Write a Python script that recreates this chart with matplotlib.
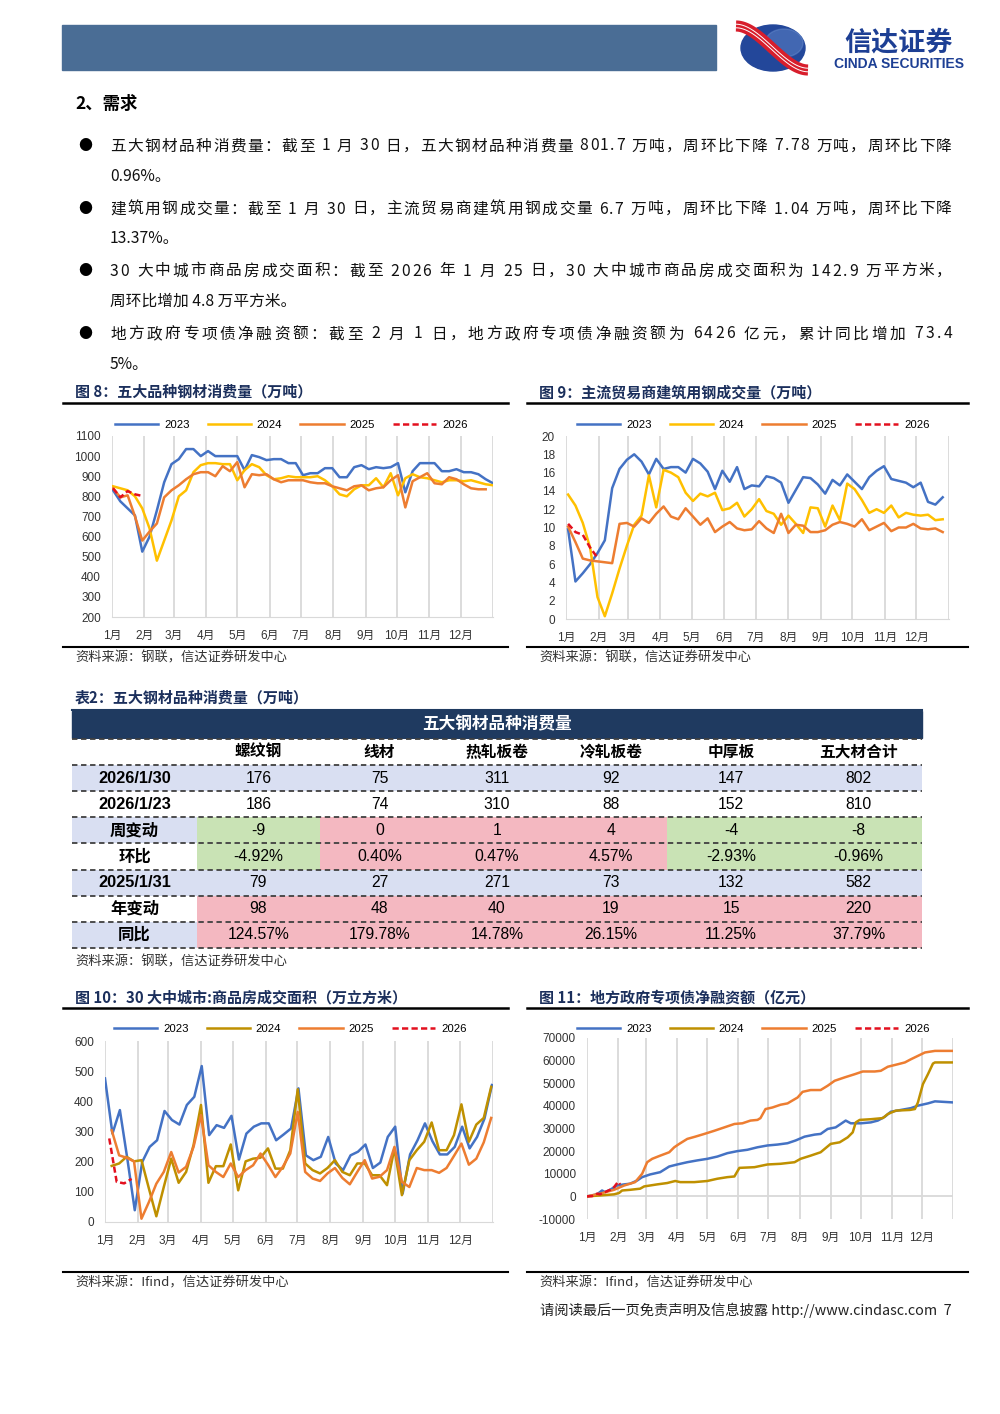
import matplotlib.pyplot as plt
import numpy as np
from matplotlib.patches import Rectangle, Ellipse

plt.rcParams['font.family'] = ['Liberation Sans', 'Noto Sans CJK SC', 'DejaVu Sans']
plt.rcParams['axes.unicode_minus'] = False
CJK = ['Noto Sans CJK SC', 'DejaVu Sans']

# ---------------- data ----------------
months = ['1月', '2月', '3月', '4月', '5月', '6月', '7月', '8月', '9月', '10月', '11月', '12月']
month_start = [0, 31, 59, 90, 120, 151, 181, 212, 243, 273, 304, 334, 365]
years = ['2023', '2024', '2025', '2026']

# 图8 五大品种钢材消费量 (weekly, 万吨)
steel_2023 = [830, 775, 740, 705, 525, 600, 730, 870, 960, 985, 1035, 1035, 1000, 1025, 1000, 1000,
              1000, 1000, 930, 1005, 995, 980, 985, 985, 965, 965, 905, 915, 915, 940, 940, 895, 895,
              945, 955, 935, 945, 940, 945, 965, 820, 925, 965, 965, 965, 925, 925, 935, 920, 920,
              910, 885, 865]
steel_2024 = [850, 840, 830, 800, 740, 640, 480, 580, 680, 800, 830, 920, 955, 965, 965, 960, 960,
              880, 930, 960, 945, 905, 885, 890, 900, 895, 895, 895, 900, 880, 850, 810, 800, 835,
              855, 855, 890, 845, 915, 805, 890, 910, 895, 890, 880, 870, 880, 880, 875, 880, 870,
              860, 855]
steel_2025 = [840, 795, 805, 700, 580, 625, 665, 795, 830, 855, 885, 910, 920, 920, 900, 950, 925,
              970, 845, 910, 905, 910, 885, 870, 880, 880, 880, 870, 865, 865, 850, 840, 830, 850,
              855, 830, 840, 845, 880, 905, 745, 875, 895, 915, 865, 860, 895, 885, 860, 840, 835,
              835]
steel_2026 = [840, 795, 826, 810, 802]

# 图9 主流贸易商建筑用钢成交量 (weekly, 万吨)
rebar_2023 = [9.8, 4.1, 5.0, 6.0, 7.2, 8.6, 14.3, 16.4, 17.4, 18.0, 17.2, 15.8, 17.5, 16.4, 16.6,
              16.6, 16.0, 17.5, 17.0, 16.1, 14.2, 16.2, 15.0, 16.6, 14.2, 14.6, 14.5, 15.6, 15.4,
              14.9, 12.7, 14.1, 15.5, 15.4, 14.7, 13.7, 15.2, 14.6, 15.8, 15.0, 14.2, 15.5, 16.2,
              16.7, 15.3, 15.1, 14.9, 14.4, 14.9, 12.8, 12.5, 13.3]
rebar_2024 = [13.6, 12.4, 10.5, 7.8, 2.4, 0.3, 2.8, 5.5, 8.0, 10.3, 11.3, 15.7, 12.2, 16.3, 16.0,
              15.5, 13.8, 12.9, 13.7, 13.4, 13.8, 11.9, 12.1, 12.7, 11.2, 12.0, 13.1, 11.8, 11.5,
              10.3, 11.3, 10.4, 9.4, 12.2, 12.1, 10.1, 12.4, 10.8, 14.8, 14.2, 13.0, 11.6, 12.0,
              11.6, 12.4, 11.1, 11.6, 11.4, 11.3, 11.4, 10.8, 10.9]
rebar_2025 = [10.1, 8.4, 6.6, 6.4, 6.3, 6.2, 6.1, 10.4, 10.5, 10.1, 11.0, 10.5, 11.5, 12.3, 11.2,
              10.9, 12.1, 11.2, 10.3, 11.0, 9.5, 10.1, 10.6, 9.9, 9.7, 9.8, 10.7, 9.9, 9.4, 11.5,
              9.4, 10.3, 10.2, 9.5, 9.5, 9.7, 10.3, 10.6, 10.4, 10.1, 10.9, 9.7, 10.1, 10.5, 9.6,
              10.0, 10.0, 10.4, 9.9, 9.8, 9.9, 9.5]
rebar_2026 = [10.4, 9.5, 9.2, 7.8, 6.7]

# 图10 30大中城市商品房成交面积 (weekly, 万平方米)
house_2023 = [476, 293, 371, 210, 39, 199, 249, 271, 368, 338, 323, 388, 415, 517, 288, 321, 312,
              352, 207, 293, 316, 327, 327, 271, 290, 310, 443, 221, 205, 216, 282, 194, 172, 221,
              233, 257, 179, 197, 282, 316, 94, 224, 271, 327, 268, 224, 224, 249, 316, 244, 282,
              343, 454]
house_2024 = [186, 194, 216, 201, 205, 111, 19, 116, 210, 130, 166, 255, 388, 130, 185, 185, 257,
              105, 201, 210, 213, 244, 177, 177, 238, 440, 194, 172, 161, 179, 205, 166, 155, 194,
              194, 155, 155, 122, 244, 89, 205, 238, 266, 330, 238, 238, 288, 390, 266, 323, 345,
              448]
house_2025 = [304, 221, 213, 201, 11, 66, 127, 166, 232, 164, 183, 249, 354, 188, 166, 149, 194,
              149, 172, 188, 227, 190, 149, 183, 227, 365, 166, 144, 136, 161, 179, 146, 125, 166,
              205, 144, 150, 172, 249, 133, 116, 179, 172, 172, 163, 179, 219, 260, 190, 210, 264,
              345]
house_2026 = [277, 133, 128, 143]

# 图11 地方政府专项债净融资额 (cumulative, 亿元), day of year
bond_2023_day = [0, 10, 15, 18, 23, 30, 37, 43, 50, 55, 63, 73, 82, 90, 100, 110, 120, 130, 140,
                 150, 160, 170, 180, 190, 200, 208, 217, 227, 233, 240, 248, 253, 258, 263, 273,
                 283, 290, 297, 303, 313, 323, 330, 340, 347, 366]
bond_2023 = [0, 900, 2600, 1900, 2900, 4800, 5300, 5600, 7000, 8500, 9700, 10700, 13200, 14100,
             15100, 15900, 16600, 17600, 19100, 20000, 20600, 21700, 22500, 22900, 23500, 24700,
             26400, 27300, 27600, 29800, 30500, 32000, 33500, 32300, 32300, 32700, 33500, 35200,
             37400, 38200, 39000, 40100, 41100, 42000, 41500]
bond_2024_day = [0, 13, 27, 32, 35, 43, 53, 57, 70, 80, 88, 93, 107, 120, 130, 140, 147, 152, 167,
                 180, 193, 207, 213, 223, 233, 243, 252, 260, 265, 268, 272, 283, 295, 300, 308,
                 322, 327, 330, 335, 340, 345, 347, 366]
bond_2024 = [0, 400, 900, 1500, 2600, 2900, 3400, 4400, 5300, 5900, 6800, 6300, 6300, 6800, 7800,
             8500, 8800, 12600, 12900, 14100, 14400, 15100, 16600, 18000, 19500, 23200, 23900,
             26100, 28300, 32700, 33800, 34100, 34600, 36400, 37900, 38200, 38600, 41500, 49600,
             54000, 58700, 59200, 59200]
bond_2025_day = [0, 13, 27, 37, 48, 55, 60, 65, 73, 82, 87, 92, 100, 108, 117, 127, 137, 147, 155,
                 163, 170, 173, 178, 185, 193, 200, 210, 215, 223, 233, 240, 247, 257, 267, 275,
                 287, 293, 300, 310, 317, 323, 330, 337, 347, 366]
bond_2025 = [0, 1200, 2900, 4800, 6300, 10000, 15100, 16600, 18000, 19500, 21700, 23200, 25400,
             26400, 27600, 29000, 30500, 32000, 32300, 33500, 33800, 34600, 38600, 39300, 40500,
             41100, 43700, 46200, 47000, 47000, 48900, 51100, 52600, 54000, 55200, 55200, 55500,
             57300, 58400, 59200, 60600, 62100, 63600, 64300, 64300]
bond_2026_day = [0, 5, 10, 13, 18, 23, 27, 31, 33]
bond_2026 = [0, 100, 1200, 900, 1900, 2900, 4100, 6426, 5300]

# 表2 五大钢材品种消费量
tbl_cols = ['螺纹钢', '线材', '热轧板卷', '冷轧板卷', '中厚板', '五大材合计']
tbl_now = [176, 75, 311, 92, 147, 802]        # 2026/1/30
tbl_prev = [186, 74, 310, 88, 152, 810]       # 2026/1/23
tbl_wk_chg = [-9, 0, 1, 4, -4, -8]
tbl_wk_pct = [-4.92, 0.40, 0.47, 4.57, -2.93, -0.96]
tbl_ly = [79, 27, 271, 73, 132, 582]          # 2025/1/31
tbl_yr_chg = [98, 48, 40, 19, 15, 220]
tbl_yr_pct = [124.57, 179.78, 14.78, 26.15, 11.25, 37.79]

body_lines = [
    ('●', '五大钢材品种消费量：截至 1 月 30 日，五大钢材品种消费量 801.7 万吨，周环比下降 7.78 万吨，周环比下降'),
    ('', '0.96%。'),
    ('●', '建筑用钢成交量：截至 1 月 30 日，主流贸易商建筑用钢成交量 6.7 万吨，周环比下降 1.04 万吨，周环比下降'),
    ('', '13.37%。'),
    ('●', '30 大中城市商品房成交面积：截至 2026 年 1 月 25 日，30 大中城市商品房成交面积为 142.9 万平方米，'),
    ('', '周环比增加 4.8 万平方米。'),
    ('●', '地方政府专项债净融资额：截至 2 月 1 日，地方政府专项债净融资额为 6426 亿元，累计同比增加 73.4'),
    ('', '5%。'),
]

# ---------------- page ----------------
W, H = 1000, 1414
fig = plt.figure(figsize=(10, 14.14), dpi=100)
pg = fig.add_axes([0, 0, 1, 1])
pg.set_xlim(0, W)
pg.set_ylim(H, 0)
pg.axis('off')
renderer = fig.canvas.get_renderer()

NAVY = '#1b2f5c'

# header bar and logo
pg.add_patch(Rectangle((62, 25), 654, 45, color='#4a6d95'))
pg.add_patch(Ellipse((773, 48), 64, 46, color='#23479a'))
pg.add_patch(Ellipse((784, 43), 38, 28, color='#6a8fd0', alpha=0.45))
t = np.linspace(0, 1, 60)
sx = 736 + 72 * t
sy = 26 + 44 * (3 * t ** 2 - 2 * t ** 3)
pg.plot(sx, sy, color='#d81e2c', lw=8, solid_capstyle='butt')
pg.plot(sx, sy - 1.8, color='white', lw=0.7)
pg.plot(sx, sy + 1.8, color='white', lw=0.7)
pg.text(899, 42, '信达证券', family=CJK, fontsize=19.5, fontweight='bold', color='#1d3f94',
        ha='center', va='center')
pg.text(899, 64, 'CINDA SECURITIES', fontsize=10, fontweight='bold', color='#1d3f94',
        ha='center', va='center')


def justified(x0, x1, y, s, **kw):
    # spread the characters of one line evenly between x0 and x1
    widths = []
    for ch in s:
        if ch == ' ':
            widths.append(4.0)
            continue
        tt = pg.text(0, 0, ch, **kw)
        widths.append(tt.get_window_extent(renderer).width)
        tt.remove()
    gap = (x1 - x0 - sum(widths)) / (len(s) - 1)
    x = x0
    for ch, w in zip(s, widths):
        if ch != ' ':
            pg.text(x, y, ch, ha='left', va='center', **kw)
        x += w + gap


# section text
pg.text(75, 104, '2、需求', family=CJK, fontsize=12.5, fontweight='bold', ha='left', va='center')
ys = [146, 176, 209, 239, 271, 301, 334, 364]
for (b, line), y in zip(body_lines, ys):
    kw = dict(family=CJK, fontsize=11.3, color='#111111')
    if b:
        pg.text(78, y, b, family=CJK, fontsize=10, ha='left', va='center')
        justified(110, 952, y, line, **kw)
    else:
        pg.text(110, y, line, ha='left', va='center', **kw)


def title(x0, x1, y, txt):
    pg.text(x0 + 12, y, txt, family=CJK, fontsize=10.8, fontweight='bold', color=NAVY,
            ha='left', va='center')
    pg.plot([x0, x1], [y + 11, y + 11], color='black', lw=1.8)


def source(x0, x1, yline, txt):
    pg.plot([x0, x1], [yline, yline], color='black', lw=1.5)
    pg.text(x0 + 12, yline + 11, txt, family=CJK, fontsize=9.5, color='#333333',
            ha='left', va='center')


def chart(l, t, r, b, series, colors, ylim, ystep, leg_x, leg_y):
    ax = fig.add_axes([l / W, 1 - b / H, (r - l) / W, (b - t) / H])
    ax.patch.set_alpha(0)
    for d in month_start:
        ax.axvline(d, color='#d9d9d9', lw=1.3, zorder=0)
    for (x, y), name, c in zip(series, years, colors):
        if name == '2026':
            ax.plot(x, y, color=c, lw=1.8, ls=(0, (2.5, 1.3)), label=name, zorder=4)
        else:
            ax.plot(x, y, color=c, lw=1.8, label=name, solid_joinstyle='round')
    ax.set_xlim(0, 365)
    ax.set_ylim(*ylim)
    ax.set_yticks(np.arange(ylim[0], ylim[1] + ystep / 2, ystep))
    ax.set_xticks(month_start[:12], months)
    ax.tick_params(length=0, labelsize=8.5, colors='#333333')
    ax.tick_params(axis='x', pad=9)
    ax.tick_params(axis='y', pad=8)
    for s in ['top', 'right', 'left']:
        ax.spines[s].set_visible(False)
    ax.spines['bottom'].set_color('#d9d9d9')
    ax.legend(loc='center left', bbox_to_anchor=((leg_x - l) / (r - l), 1 + (t - leg_y) / (b - t)),
              ncol=4, frameon=False, fontsize=8.2, handlelength=3.8, handletextpad=0.5,
              columnspacing=1.6, borderpad=0, borderaxespad=0)
    return ax


def weekly(vals, start):
    return start + 7 * np.arange(len(vals))


c1 = ['#4472c4', '#ffc000', '#ed7d31', '#e3101e']
c2 = ['#4472c4', '#bf9000', '#ed7d31', '#e3101e']

# 图8
title(63, 508, 392, '图 8：五大品种钢材消费量（万吨）')
chart(112, 436, 493, 617,
      [(weekly(steel_2023, 1), steel_2023), (weekly(steel_2024, 1), steel_2024),
       (weekly(steel_2025, 1), steel_2025), (weekly(steel_2026, 1), steel_2026)],
      c1, (200, 1100), 100, 115, 425)
source(63, 508, 647, '资料来源：钢联，信达证券研发中心')

# 图9
title(527, 968, 392, '图 9：主流贸易商建筑用钢成交量（万吨）')
chart(566, 436, 949, 619,
      [(weekly(rebar_2023, 2), rebar_2023), (weekly(rebar_2024, 2), rebar_2024),
       (weekly(rebar_2025, 2), rebar_2025), (weekly(rebar_2026, 2), rebar_2026)],
      c1, (0, 20), 2, 577, 425)
source(527, 968, 647, '资料来源：钢联，信达证券研发中心')

# 表2
pg.text(75, 698, '表2：五大钢材品种消费量（万吨）', family=CJK, fontsize=10.8, fontweight='bold',
        color=NAVY, ha='left', va='center')
TL, TR = 72, 922
col_edges = [197, 320, 439, 555, 667, 795, 922]
BLUE, GREEN, PINK = '#d9dff2', '#c9e3b5', '#f4b8c1'
pg.plot([TL, TR], [710, 710], color='#1f3a60', lw=1.5)
pg.add_patch(Rectangle((TL, 711), TR - TL, 27, color='#1f3a60'))
pg.text((TL + TR) / 2, 724.5, '五大钢材品种消费量', family=CJK, fontsize=12, fontweight='bold',
        color='white', ha='center', va='center')

sign_col = lambda v: GREEN if v < 0 else PINK
rows = [
    ('', tbl_cols, 'white', ['white'] * 6, True),
    ('2026/1/30', [str(v) for v in tbl_now], BLUE, [BLUE] * 6, False),
    ('2026/1/23', [str(v) for v in tbl_prev], 'white', ['white'] * 6, False),
    ('周变动', [str(v) for v in tbl_wk_chg], BLUE, [sign_col(v) for v in tbl_wk_chg], False),
    ('环比', [f'{v:.2f}%' for v in tbl_wk_pct], 'white', [sign_col(v) for v in tbl_wk_chg], False),
    ('2025/1/31', [str(v) for v in tbl_ly], BLUE, [BLUE] * 6, False),
    ('年变动', [str(v) for v in tbl_yr_chg], 'white', [sign_col(v) for v in tbl_yr_chg], False),
    ('同比', [f'{v:.2f}%' for v in tbl_yr_pct], BLUE, [sign_col(v) for v in tbl_yr_chg], False),
]
rh = 26.1
y0 = 739
for i, (lab, vals, lbg, cbg, head) in enumerate(rows):
    top = y0 + i * rh
    cy = top + rh / 2
    pg.add_patch(Rectangle((TL, top), col_edges[0] - TL, rh, color=lbg, lw=0))
    pg.text((TL + col_edges[0]) / 2, cy, lab, family=['Liberation Sans', 'Noto Sans CJK SC'],
            fontsize=11.8, fontweight='bold', ha='center', va='center')
    for j, v in enumerate(vals):
        pg.add_patch(Rectangle((col_edges[j], top), col_edges[j + 1] - col_edges[j], rh,
                               color=cbg[j], lw=0))
        pg.text((col_edges[j] + col_edges[j + 1]) / 2, cy, v,
                family=['Liberation Sans', 'Noto Sans CJK SC'], fontsize=11.3,
                fontweight='bold' if head else 'normal', ha='center', va='center')
    pg.plot([TL, TR], [top, top], color='#404040', lw=1.3, ls=(0, (3, 2)))
pg.plot([TL, TR], [y0 + 8 * rh, y0 + 8 * rh], color='#404040', lw=1.3, ls=(0, (3, 2)))
pg.text(75, 962, '资料来源：钢联，信达证券研发中心', family=CJK, fontsize=9.5, color='#333333',
        ha='left', va='center')

# 图10
title(63, 508, 997, '图 10：30 大中城市:商品房成交面积（万立方米）')
chart(105, 1041, 493, 1222,
      [(weekly(house_2023, 0), house_2023), (weekly(house_2024, 6.3), house_2024),
       (weekly(house_2025, 6.3), house_2025), (weekly(house_2026, 4), house_2026)],
      c2, (0, 600), 100, 114, 1029)
source(63, 508, 1272, '资料来源：Ifind，信达证券研发中心')

# 图11
title(527, 968, 997, '图 11：地方政府专项债净融资额（亿元）')
ax11 = chart(587, 1038, 953, 1219,
             [(bond_2023_day, bond_2023), (bond_2024_day, bond_2024),
              (bond_2025_day, bond_2025), (bond_2026_day, bond_2026)],
             c2, (-10000, 70000), 10000, 577, 1029)
ax11.spines['bottom'].set_visible(False)
ax11.axhline(0, color='#d9d9d9', lw=1.3, zorder=0)
source(527, 968, 1272, '资料来源：Ifind，信达证券研发中心')

# footer
pg.text(952, 1310, '请阅读最后一页免责声明及信息披露 http://www.cindasc.com  7', family=CJK,
        fontsize=10.3, ha='right', va='center', color='#222222')

fig.savefig('out.png', dpi=100)
